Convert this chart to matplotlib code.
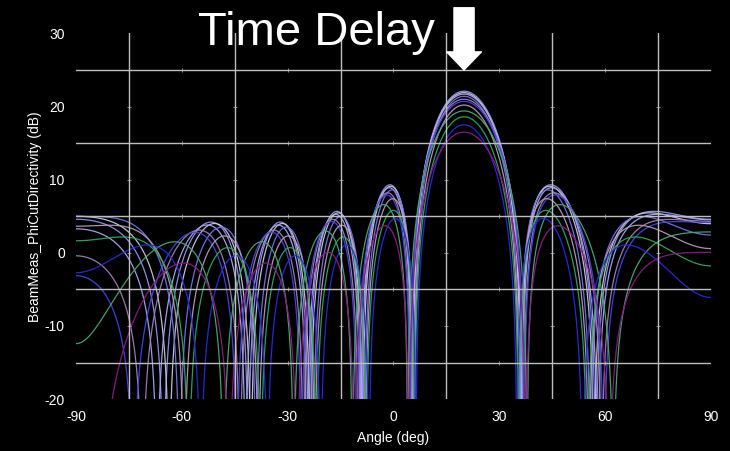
import numpy as np
import matplotlib.pyplot as plt

plt.rcParams['font.family'] = ['Liberation Sans', 'DejaVu Sans']
plt.rcParams['axes.unicode_minus'] = False

# 8 element row, time delay steered to 20 deg
steer_deg = 20.0
n_elem = 8

# one trace per frequency point: peak directivity (dB) and element spacing (wavelengths)
peak_db = [22.1, 21.9, 21.7, 21.4, 21.0, 20.7, 20.2, 19.4, 18.6, 17.5, 16.5]
spacing_wl = [0.500, 0.505, 0.495, 0.515, 0.485, 0.480, 0.520, 0.460, 0.525, 0.540, 0.468]
trace_colors = ['#9494ee', '#c8c8dc', '#a8a8f0', '#7474e6', '#a080b4', '#4646de',
                '#b49cb8', '#4aa872', '#2fa860', '#2c2cd8', '#8c1c84']

x_ticks = [-90, -60, -30, 0, 30, 60, 90]
y_ticks = [-20, -10, 0, 10, 20, 30]
grid_x = [-75, -45, -15, 15, 45, 75]
grid_y = [-15, -5, 5, 15, 25]

theta = np.linspace(-90, 90, 3601)


def phi_cut_db(peak, spacing):
	# uniform array factor, normalised to the peak directivity
	psi = 2 * np.pi * spacing * (np.sin(np.radians(theta)) - np.sin(np.radians(steer_deg)))
	num = np.sin(n_elem * psi / 2)
	den = n_elem * np.sin(psi / 2)
	with np.errstate(divide='ignore', invalid='ignore'):
		af = np.where(np.abs(den) < 1e-12, 1.0, num / den)
	return peak + 20 * np.log10(np.maximum(np.abs(af), 1e-4))


fig = plt.figure(figsize=(7.3, 4.51), dpi=100, facecolor='black')
ax = fig.add_axes([0.104, 0.115, 0.870, 0.811], facecolor='black')

for pk, sp, col in zip(peak_db, spacing_wl, trace_colors):
	ax.plot(theta, phi_cut_db(pk, sp), color=col, lw=0.9, alpha=0.95)

ax.set_xlim(-90, 90)
ax.set_ylim(-20, 30)
ax.set_xticks(x_ticks)
ax.set_yticks(y_ticks)
ax.set_xticks(grid_x, minor=True)
ax.set_yticks(grid_y, minor=True)
ax.grid(which='minor', color='#bebebe', lw=1.0)
ax.set_axisbelow(False)
ax.tick_params(which='both', length=0, colors='white', labelsize=10, pad=8)
for sp in ax.spines.values():
	sp.set_visible(False)

# little crossing marks where the grid meets the labelled values
gx, gy = np.meshgrid(x_ticks[1:-1], grid_y)
ax.plot(gx.ravel(), gy.ravel(), ls='none', marker='|', ms=3.5, mew=0.6, color='#a0a0a0')
gx, gy = np.meshgrid(grid_x, y_ticks[1:-1])
ax.plot(gx.ravel(), gy.ravel(), ls='none', marker='_', ms=3.5, mew=0.6, color='#a0a0a0')

ax.set_xlabel('Angle (deg)', color='white', fontsize=10, labelpad=5)
ax.set_ylabel('BeamMeas_PhiCutDirectivity (dB)', color='white', fontsize=10, labelpad=2)

# arrow marking the steered direction
ax.annotate('', xy=(steer_deg, 25), xytext=(steer_deg, 33.5), annotation_clip=False,
            arrowprops=dict(arrowstyle='simple,head_length=1.3,head_width=2.5,tail_width=1.45',
                            mutation_scale=10, color='white', shrinkA=0, shrinkB=0))
fig.text(198 / 730, 1 - 45 / 451, 'Time Delay', color='white', fontsize=34,
         ha='left', va='baseline')

fig.savefig('out.png', dpi=100, facecolor='black')
